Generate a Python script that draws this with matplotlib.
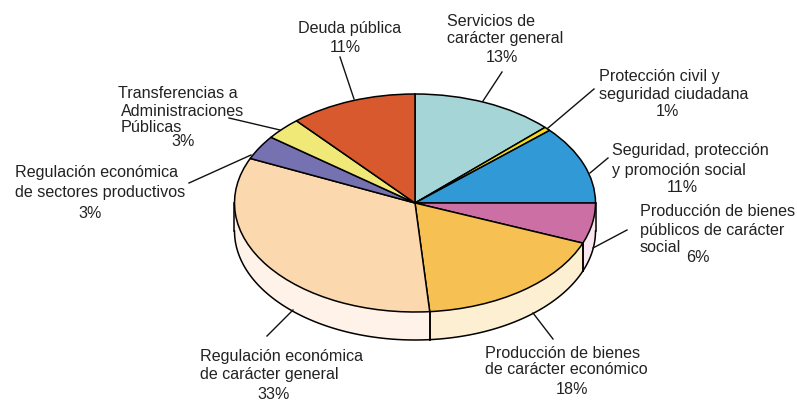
import numpy as np
import matplotlib
matplotlib.use("Agg")
import matplotlib.pyplot as plt

plt.rcParams["font.family"] = ["Liberation Sans", "DejaVu Sans"]

W, H = 797, 401
CX, CY = 415, 203   # pie centre, pixels
RX, RY = 180.5, 109
DEPTH = 28

sectores = ["Servicios", "Proteccion", "Seguridad", "Prod social", "Prod economico",
            "Reg general", "Reg sectores", "Transferencias", "Deuda"]
valores = [12.8, 0.6, 11.6, 6.0, 17.7, 33.0, 3.6, 3.3, 11.4]
colores = ["#A5D5D6", "#F5DC1E", "#319AD6", "#CB6FA4", "#F6C152",
           "#FBD8AE", "#7672B1", "#F0E977", "#D8592E"]
laterales = ["#A5D5D6", "#F5DC1E", "#319AD6", "#F9E8F0", "#FDEFD2",
             "#FFF2E8", "#7672B1", "#F0E977", "#D8592E"]

# (x, y centro, alineacion, texto)
etiquetas = [
    (298, 28, "left", "Deuda pública"),
    (345, 47, "center", "11%"),
    (447, 22, "left", "Servicios de"),
    (447, 38, "left", "carácter general"),
    (502, 58, "center", "13%"),
    (599, 77, "left", "Protección civil y"),
    (599, 95, "left", "seguridad ciudadana"),
    (667, 112, "center", "1%"),
    (612, 151, "left", "Seguridad, protección"),
    (612, 170, "left", "y promoción social"),
    (682, 187, "center", "11%"),
    (640, 211, "left", "Producción de bienes"),
    (640, 230, "left", "públicos de carácter"),
    (640, 248, "left", "social"),
    (698, 258, "center", "6%"),
    (485, 353, "left", "Producción de bienes"),
    (485, 370, "left", "de carácter económico"),
    (572, 390, "center", "18%"),
    (200, 356, "left", "Regulación económica"),
    (200, 375, "left", "de carácter general"),
    (274, 394.5, "center", "33%"),
    (15, 172, "left", "Regulación económica"),
    (15, 193, "left", "de sectores productivos"),
    (90, 213, "center", "3%"),
    (118, 93, "left", "Transferencias a"),
    (121, 111, "left", "Administraciones"),
    (121, 127, "left", "Públicas"),
    (183, 142, "center", "3%"),
]

# guias: (x0, y0, x1, y1) en pixeles
guias = [
    (340, 57, 354, 99),
    (502, 72, 483, 101),
    (594, 89, 548, 128),
    (608, 158, 590, 173),
    (627, 230, 593, 248),
    (553, 339, 533, 313),
    (267, 336, 293, 310),
    (189, 183, 251, 155),
    (229, 118, 280, 130),
]

fig = plt.figure(figsize=(W / 100, H / 100), dpi=100)
ax = fig.add_axes([0, 0, 1, 1])

ax.pie(valores, colors=colores, startangle=90, counterclock=False, radius=1,
       wedgeprops={"edgecolor": "black", "linewidth": 1.1, "zorder": 3})
ax.set_aspect("auto")
ax.set_xlim(-CX / RX, (W - CX) / RX)
ax.set_ylim(-(H - CY) / RY, CY / RY)


def px(x, y):
    return (x - CX) / RX, (CY - y) / RY


# pared lateral del cilindro, solo la mitad delantera
d = DEPTH / RY
bordes = 90 - 3.6 * np.cumsum([0] + valores)
for i in range(len(valores)):
    a0, a1 = bordes[i], bordes[i + 1]
    # mitad delantera: angulos entre -180 y 0
    ini, fin = min(a0, 0), max(a1, -180)
    if ini <= fin:
        continue
    t = np.radians(np.linspace(ini, fin, 80))
    xs = np.cos(t)
    ys = np.sin(t)
    ax.fill(np.r_[xs, xs[::-1]], np.r_[ys, ys[::-1] - d], facecolor=laterales[i],
            edgecolor="none", zorder=1)
    ax.plot(xs, ys - d, color="black", lw=1.1, zorder=2)
    for xb, yb, a in ((xs[0], ys[0], ini), (xs[-1], ys[-1], fin)):
        if -180 < a < 0:
            ax.plot([xb, xb], [yb, yb - d], color="black", lw=1.1, zorder=2)
for lado in (-1, 1):
    ax.plot([lado, lado], [0, -d], color="black", lw=1.1, zorder=2)

for x0, y0, x1, y1 in guias:
    p0, p1 = px(x0, y0), px(x1, y1)
    ax.plot([p0[0], p1[0]], [p0[1], p1[1]], color="#111111", lw=1.0, zorder=2)

for x, y, al, txt in etiquetas:
    tx, ty = px(x, y)
    ax.text(tx, ty, txt, ha=al, va="center", fontsize=11.6, color="#222222")

ax.axis("off")
fig.savefig("out.png", dpi=100)
